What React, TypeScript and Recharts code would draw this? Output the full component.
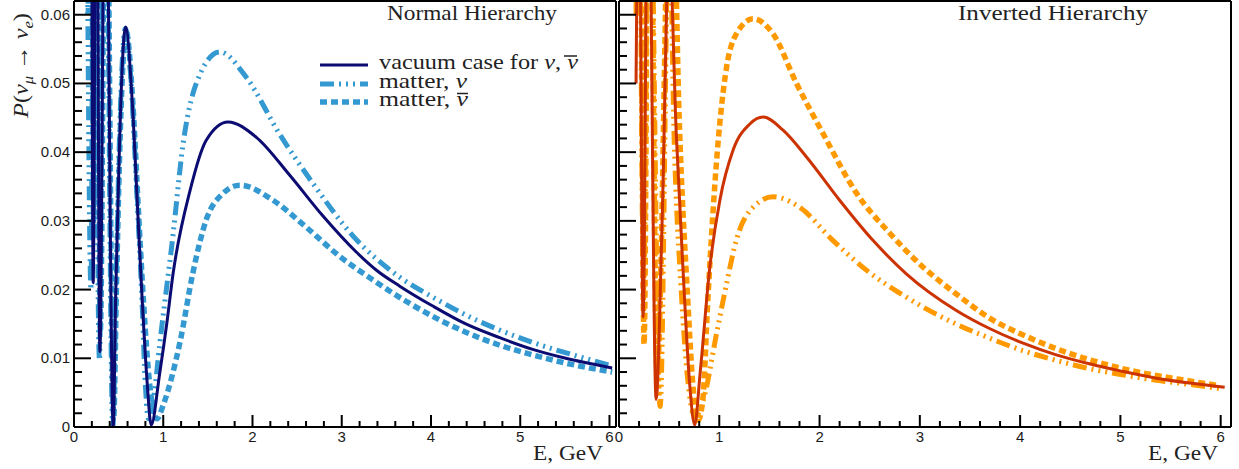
import React from 'react';
import { LineChart, Line, XAxis, YAxis } from 'recharts';

// ---------- data (E in GeV, P = probability) ----------

// Normal hierarchy, vacuum (nu and nubar)
const nhVacE = [0.16, 0.19, 0.215, 0.25, 0.29, 0.35, 0.44, 0.466, 0.503, 0.54, 0.578, 0.652, 0.708, 0.764, 0.82, 0.865, 0.96, 1.04, 1.11, 1.3, 1.48, 1.726, 2.04, 2.42, 2.79, 3.16, 3.4, 3.65, 4.02, 4.39, 4.77, 5.14, 5.51, 6.03];
const nhVacP = [0.07, 0.095, 0.021, 0.1, 0.011, 0.095, 0.0, 0.0185, 0.0378, 0.0524, 0.0582, 0.0475, 0.033, 0.0185, 0.0064, 0.0003, 0.0078, 0.0151, 0.0223, 0.0344, 0.0417, 0.0444, 0.0422, 0.0366, 0.0307, 0.0255, 0.0227, 0.0205, 0.0176, 0.015, 0.013, 0.0113, 0.01, 0.0086];

// Normal hierarchy, matter, nu
const nhNuE = [0.15, 0.19, 0.22, 0.285, 0.345, 0.435, 0.47, 0.505, 0.54, 0.575, 0.65, 0.7, 0.76, 0.8, 0.835, 0.9, 0.96, 1.11, 1.22, 1.37, 1.633, 1.93, 2.3, 2.68, 3.12, 3.65, 4.02, 4.39, 4.77, 5.14, 5.59, 6.03];
const nhNuP = [0.07, 0.02, 0.09, 0.0097, 0.1, 0.0, 0.02, 0.04, 0.053, 0.058, 0.048, 0.035, 0.019, 0.006, 0.0012, 0.005, 0.012, 0.028, 0.041, 0.05, 0.0546, 0.0509, 0.0427, 0.0354, 0.0279, 0.0218, 0.0189, 0.0163, 0.0141, 0.0123, 0.0105, 0.0089];

// Normal hierarchy, matter, nubar
const nhNubE = [0.16, 0.195, 0.22, 0.255, 0.295, 0.355, 0.445, 0.475, 0.51, 0.545, 0.585, 0.66, 0.72, 0.78, 0.85, 0.93, 1.0, 1.1, 1.19, 1.33, 1.48, 1.67, 1.86, 2.23, 2.6, 2.98, 3.35, 3.72, 4.02, 4.39, 4.77, 5.14, 5.51, 6.03];
const nhNubP = [0.06, 0.095, 0.03, 0.1, 0.014, 0.095, 0.0015, 0.02, 0.039, 0.052, 0.0575, 0.047, 0.032, 0.018, 0.006, 0.0012, 0.0032, 0.0075, 0.0125, 0.0223, 0.0301, 0.034, 0.0352, 0.033, 0.0291, 0.0248, 0.0214, 0.0183, 0.0161, 0.0138, 0.0119, 0.0105, 0.0093, 0.008];

// Inverted hierarchy, vacuum
const ihVacE = [0.17, 0.2, 0.24, 0.29, 0.37, 0.43, 0.5, 0.571, 0.637, 0.704, 0.755, 0.81, 0.906, 1.006, 1.138, 1.305, 1.437, 1.636, 1.87, 2.2, 2.53, 2.865, 3.36, 3.7, 4.03, 4.36, 4.69, 5.02, 5.36, 5.69, 6.04];
const ihVacP = [0.05, 0.085, 0.016, 0.09, 0.004, 0.03, 0.07, 0.0427, 0.0233, 0.0064, 0.0003, 0.008, 0.0233, 0.033, 0.0403, 0.0441, 0.0451, 0.0432, 0.0393, 0.033, 0.0272, 0.0223, 0.017, 0.0143, 0.0122, 0.0105, 0.0092, 0.0081, 0.0071, 0.0064, 0.0058];

// Inverted hierarchy, matter, nu
const ihNuE = [0.17, 0.195, 0.245, 0.3, 0.41, 0.5, 0.55, 0.62, 0.7, 0.76, 0.84, 0.973, 1.073, 1.17, 1.338, 1.537, 1.8, 2.13, 2.47, 2.865, 3.36, 3.7, 4.03, 4.36, 4.69, 5.02, 5.36, 5.69, 5.99];
const ihNuP = [0.06, 0.09, 0.02, 0.09, 0.003, 0.075, 0.042, 0.02, 0.005, 0.0015, 0.0039, 0.0136, 0.0209, 0.0272, 0.032, 0.0335, 0.032, 0.0272, 0.0228, 0.0189, 0.015, 0.0129, 0.0111, 0.0097, 0.0085, 0.0076, 0.0068, 0.0062, 0.0056];

// Inverted hierarchy, matter, nubar
const ihNubE = [0.17, 0.205, 0.25, 0.3, 0.38, 0.52, 0.6, 0.68, 0.75, 0.79, 0.836, 0.886, 0.98, 1.073, 1.17, 1.338, 1.537, 1.77, 2.035, 2.37, 2.7, 3.03, 3.36, 3.7, 4.03, 4.36, 4.69, 5.02, 5.36, 5.69, 5.99];
const ihNubP = [0.07, 0.1, 0.012, 0.1, 0.008, 0.09, 0.045, 0.02, 0.004, 0.001, 0.004, 0.0185, 0.04, 0.0524, 0.0572, 0.0594, 0.0572, 0.05, 0.0427, 0.034, 0.0282, 0.0233, 0.0194, 0.0158, 0.0134, 0.0114, 0.0098, 0.0085, 0.0075, 0.0067, 0.006];

// axis ticks (minor every 0.2 GeV / 0.002, labelled every 5th)
const xLabels = ['0', '1', '2', '3', '4', '5', '6'];
const yLabels = ['0', '0.01', '0.02', '0.03', '0.04', '0.05', '0.06'];
const xTicks = Array.from({ length: 31 }, (_, i) => +(i * 0.2).toFixed(1));
const yTicks = Array.from({ length: 31 }, (_, i) => +(i * 0.002).toFixed(3));

const pts = (e: number[], p: number[]) => e.map((E, i) => ({ E, P: p[i] }));

const NAVY = '#0b0b72';
const SKY = '#3499d1';
const RED = '#cc3300';
const ORANGE = '#ff9900';
const DASH_DOT = '14 5 2 5 2 5 2 5';
const DASHED = '7 4';

const SANS = '"Liberation Sans", Arial, sans-serif';
const SERIF = '"Liberation Serif", "Times New Roman", serif';
const TXT = '#222';

const nhSeries = [
  { name: 'nhNu', data: pts(nhNuE, nhNuP), stroke: SKY, width: 5, dash: DASH_DOT },
  { name: 'nhNub', data: pts(nhNubE, nhNubP), stroke: SKY, width: 5.5, dash: DASHED },
  { name: 'nhVac', data: pts(nhVacE, nhVacP), stroke: NAVY, width: 3, dash: undefined },
];
const ihSeries = [
  { name: 'ihNu', data: pts(ihNuE, ihNuP), stroke: ORANGE, width: 5, dash: DASH_DOT },
  { name: 'ihNub', data: pts(ihNubE, ihNubP), stroke: ORANGE, width: 5.5, dash: DASHED },
  { name: 'ihVac', data: pts(ihVacE, ihVacP), stroke: RED, width: 3, dash: undefined },
];

// ROOT-style ticks: drawn inward from the axis line, labels every 5th
const xTick = (props: any) => {
  const { x, y, index } = props;
  const major = index % 5 === 0;
  return (
    <g>
      <line x1={x} y1={y} x2={x} y2={y - (major ? 12 : 6)} stroke="#000" strokeWidth={2} />
      {major && (
        <text x={x} y={y + 15} textAnchor="middle" fontFamily={SANS} fontSize={15} fill="#1a1a1a">
          {xLabels[index / 5]}
        </text>
      )}
    </g>
  );
};

const yTick = (withLabels: boolean) => (props: any) => {
  const { x, y, index } = props;
  const major = index % 5 === 0;
  return (
    <g>
      <line x1={x} y1={y} x2={x + (major ? 17 : 8)} y2={y} stroke="#000" strokeWidth={2} />
      {major && withLabels && (
        <text x={x - 4} y={y + 5} textAnchor="end" fontFamily={SANS} fontSize={15} fill="#1a1a1a">
          {yLabels[index / 5]}
        </text>
      )}
    </g>
  );
};

function Panel({ left, width, mLeft, mRight, xMax, series, withYLabels }: any) {
  const frame = { stroke: '#000', strokeWidth: 2 };
  return (
    <div style={{ position: 'absolute', left, top: 0 }}>
      <LineChart width={width} height={469} margin={{ top: 0, right: mRight, bottom: 41, left: mLeft }}>
        <XAxis xAxisId="main" type="number" dataKey="E" domain={[0, xMax]} allowDataOverflow ticks={xTicks} interval={0}
          height={1} tickSize={0} tickMargin={0} tickLine={false} axisLine={frame} tick={xTick} />
        <XAxis xAxisId="top" orientation="top" type="number" domain={[0, xMax]} ticks={[0]} height={1}
          tick={false} tickLine={false} axisLine={frame} />
        <YAxis yAxisId="main" type="number" domain={[0, 0.062]} allowDataOverflow ticks={yTicks} interval={0}
          width={1} tickSize={0} tickMargin={0} tickLine={false} axisLine={frame} tick={yTick(withYLabels)} />
        <YAxis yAxisId="right" orientation="right" type="number" domain={[0, 0.062]} ticks={[0]} width={1}
          tick={false} tickLine={false} axisLine={frame} />
        {series.map((s: any) => (
          <Line key={s.name} xAxisId="main" yAxisId="main" data={s.data} dataKey="P" type="monotone"
            stroke={s.stroke} strokeWidth={s.width} strokeDasharray={s.dash} dot={false} activeDot={false}
            isAnimationActive={false} />
        ))}
      </LineChart>
    </div>
  );
}

export default function App() {
  const nu = <tspan fontStyle="italic">ν</tspan>;
  const legendRows = [
    { y: 65, stroke: NAVY, width: 3, dash: undefined, len: 199, label: <>vacuum case for {nu}, {nu}</>, bar: [564, 577, 56] },
    { y: 84, stroke: SKY, width: 5, dash: DASH_DOT, len: 88, label: <>matter, {nu}</>, bar: null },
    { y: 102, stroke: SKY, width: 5.5, dash: DASHED, len: 89, label: <>matter, {nu}</>, bar: [457, 468, 93.5] },
  ];
  return (
    <div style={{ position: 'absolute', left: 0, top: 0, width: 1239, height: 469, background: '#fff' }}>
      <Panel left={0} width={630} mLeft={73} mRight={13} xMax={6.073} series={nhSeries} withYLabels />
      <Panel left={600} width={639} mLeft={18} mRight={7} xMax={6.103} series={ihSeries} withYLabels={false} />
      <svg width={1239} height={469} style={{ position: 'absolute', left: 0, top: 0, pointerEvents: 'none' }}>
        <text x={387} y={20} fontFamily={SERIF} fontSize={21} fill={TXT} textLength={170} lengthAdjust="spacingAndGlyphs">Normal Hierarchy</text>
        <text x={958} y={20} fontFamily={SERIF} fontSize={21} fill={TXT} textLength={190} lengthAdjust="spacingAndGlyphs">Inverted Hierarchy</text>
        {legendRows.map((r, i) => (
          <g key={i}>
            <line x1={320} y1={r.y} x2={368} y2={r.y} stroke={r.stroke} strokeWidth={r.width} strokeDasharray={r.dash} />
            <text x={379} y={r.y + 4} fontFamily={SERIF} fontSize={22} fill={TXT} textLength={r.len} lengthAdjust="spacingAndGlyphs">{r.label}</text>
            {r.bar && <line x1={r.bar[0]} y1={r.bar[2]} x2={r.bar[1]} y2={r.bar[2]} stroke={TXT} strokeWidth={1.5} />}
          </g>
        ))}
        <text x={533} y={460} fontFamily={SERIF} fontSize={22} fill={TXT} textLength={70} lengthAdjust="spacingAndGlyphs">E, GeV</text>
        <text x={1148} y={460} fontFamily={SERIF} fontSize={22} fill={TXT} textLength={70} lengthAdjust="spacingAndGlyphs">E, GeV</text>
        <text transform="translate(28, 118) rotate(-90)" fontFamily={SERIF} fontSize={22} fill={TXT} textLength={105} lengthAdjust="spacingAndGlyphs">
          <tspan fontStyle="italic">P</tspan>(<tspan fontStyle="italic">ν</tspan>
          <tspan dy={5} fontSize={15} fontStyle="italic">μ</tspan>
          <tspan dy={-5}> → </tspan><tspan fontStyle="italic">ν</tspan>
          <tspan dy={5} fontSize={15} fontStyle="italic">e</tspan>
          <tspan dy={-5}>)</tspan>
        </text>
      </svg>
    </div>
  );
}
